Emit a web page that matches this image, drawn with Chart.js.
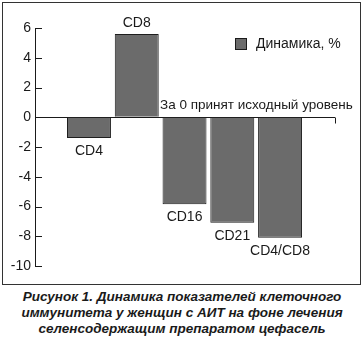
<!DOCTYPE html>
<html>
<head>
<meta charset="utf-8">
<script src="https://cdn.jsdelivr.net/npm/chart.js@4.4.1/dist/chart.umd.min.js"></script>
<style>
  html, body { margin: 0; padding: 0; background: #fff; }
  #wrap { position: relative; width: 364px; height: 338px; overflow: hidden; }
  #frame { position: absolute; left: 2px; top: 2px; width: 357px; height: 281px; border: 1px solid #333; }
  #box { position: absolute; left: 0; top: 0; width: 364px; height: 286px; }
  #caption {
    position: absolute; left: 0; top: 289px; width: 364px;
    font: italic bold 13.5px "Liberation Sans", Arial, sans-serif;
    line-height: 16px; text-align: center; color: #1a1a1a;
  }
</style>
</head>
<body>
<div id="wrap">
  <div id="frame"></div>
  <div id="box"><canvas id="chart"></canvas></div>
  <div id="caption">Рисунок 1. Динамика показателей клеточного<br>иммунитета у женщин с АИТ на фоне лечения<br>селенсодержащим препаратом цефасель</div>
</div>
<script>
const categories = ['CD4', 'CD8', 'CD16', 'CD21', 'CD4/CD8'];
const dynamics   = [-1.4, 5.6, -5.85, -7.1, -8.1];
const seriesName = 'Динамика, %';
const noteText   = 'За 0 принят исходный уровень';
const Y_MIN = -10, Y_MAX = 6, Y_STEP = 2;

const FONT = '"Liberation Sans", Arial, sans-serif';
const INK = '#1a1a1a';
const BAR_FILL = '#6b6b6b';

// засечки, подписи столбцов, легенда, примечание
const decor = {
  id: 'decor',
  afterDraw(chart) {
    const ctx = chart.ctx;
    const y = chart.scales.y;
    const area = chart.chartArea;
    const zero = Math.round(y.getPixelForValue(0)) + 0.5;
    ctx.save();
    ctx.strokeStyle = INK;
    ctx.lineWidth = 1;
    // внутренние засечки оси Y
    y.ticks.forEach(t => {
      const py = Math.round(y.getPixelForValue(t.value)) + 0.5;
      ctx.beginPath();
      ctx.moveTo(area.left, py);
      ctx.lineTo(area.left + 7, py);
      ctx.stroke();
    });
    // засечка в конце нулевой линии
    ctx.beginPath();
    ctx.moveTo(Math.round(area.right) + 0.5, zero);
    ctx.lineTo(Math.round(area.right) + 0.5, zero + 6);
    ctx.stroke();

    // подписи столбцов
    ctx.fillStyle = INK;
    ctx.font = '14px ' + FONT;
    ctx.textAlign = 'center';
    ctx.textBaseline = 'middle';
    chart.getDatasetMeta(0).data.forEach((bar, i) => {
      const v = dynamics[i];
      ctx.fillText(categories[i], bar.x, v >= 0 ? bar.y - 11 : bar.y + 13);
    });

    // примечание
    ctx.textAlign = 'left';
    ctx.font = '13.5px ' + FONT;
    ctx.fillText(noteText, 160, 105);

    // легенда
    ctx.font = '14px ' + FONT;
    ctx.fillStyle = BAR_FILL;
    ctx.fillRect(235, 38, 12, 12);
    ctx.strokeRect(235.5, 38.5, 11, 11);
    ctx.fillStyle = INK;
    ctx.fillText(seriesName, 256, 44);
    ctx.restore();
  }
};

new Chart(document.getElementById('chart'), {
  type: 'bar',
  data: {
    datasets: [{
      label: seriesName,
      data: dynamics.map((v, i) => ({ x: i, y: v })),
      backgroundColor: BAR_FILL,
      borderColor: '#1e1e1e',
      borderWidth: 1,
      barPercentage: 0.92,
      categoryPercentage: 1
    }]
  },
  options: {
    responsive: true,
    maintainAspectRatio: false,
    animation: false,
    layout: { padding: { left: 0, right: 29, top: 28, bottom: 20 } },
    plugins: { legend: { display: false }, tooltip: { enabled: false } },
    scales: {
      x: {
        type: 'linear',
        display: false,
        offset: false,
        min: -1.13,
        max: 5.15
      },
      y: {
        min: Y_MIN,
        max: Y_MAX,
        ticks: { stepSize: Y_STEP, color: INK, padding: 4, font: { family: FONT, size: 14 } },
        grid: {
          drawTicks: false,
          color: c => (c.tick && c.tick.value === 0) ? INK : 'rgba(0,0,0,0)',
          lineWidth: 1
        },
        border: { display: true, color: INK, width: 1 },
        afterFit: s => { s.width = 35; }
      }
    }
  },
  plugins: [decor]
});
</script>
</body>
</html>
